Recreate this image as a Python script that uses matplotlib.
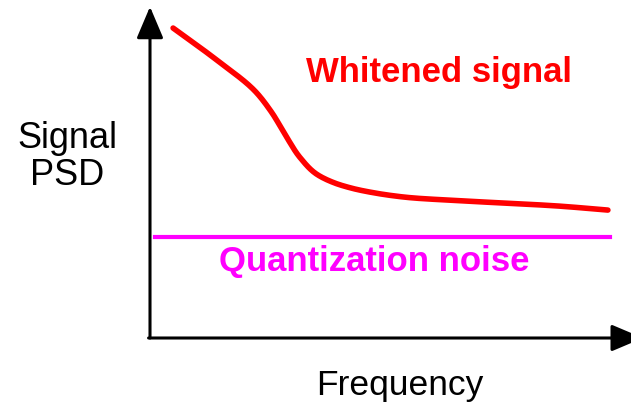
import matplotlib.pyplot as plt
import numpy as np

# Whitened signal PSD curve (frequency, level in arbitrary units)
sig_freq = [4.8, 14.0, 22.2, 25.2, 28.5, 31.2, 34.7, 38.5, 41.6, 46.8, 52.0, 62.4, 72.8, 85.2, 95.2]
sig_psd = [94.5, 84.6, 74.7, 69.0, 61.0, 55.0, 49.9, 47.2, 45.8, 44.2, 43.1, 42.0, 41.2, 40.2, 39.0]

# Quantization noise floor
noise_freq = [1.0, 95.6]
noise_psd = [30.8, 30.8]

plt.rcParams['font.family'] = ['Liberation Sans', 'DejaVu Sans']

fig = plt.figure(figsize=(6.31, 4.08), dpi=100)
ax = fig.add_axes([150 / 631, 70 / 408, 481 / 631, 328 / 408])
ax.set_xlim(0, 100)
ax.set_ylim(0, 100)
ax.axis('off')


# smooth the curve with a cubic Hermite spline through the points
def cubic(tk, vk, tq):
    out = np.empty_like(tq)
    n = len(tk)
    m = np.gradient(vk, tk)
    for i, q in enumerate(tq):
        k = min(np.searchsorted(tk, q, side='right') - 1, n - 2)
        h = tk[k + 1] - tk[k]
        s = (q - tk[k]) / h
        h00 = 2 * s**3 - 3 * s**2 + 1
        h10 = s**3 - 2 * s**2 + s
        h01 = -2 * s**3 + 3 * s**2
        h11 = s**3 - s**2
        out[i] = h00 * vk[k] + h10 * h * m[k] + h01 * vk[k + 1] + h11 * h * m[k + 1]
    return out


xs = np.array(sig_freq)
ys = np.array(sig_psd)
t = np.concatenate([[0], np.cumsum(np.hypot(np.diff(xs), np.diff(ys)))])
tt = np.linspace(0, t[-1], 400)

ax.plot(cubic(t, xs, tt), cubic(t, ys, tt), color='#ff0000', lw=4.0,
        solid_capstyle='round', clip_on=False)
ax.plot(noise_freq, noise_psd, color='#ff00ff', lw=3.0, clip_on=False)

# axes arrows
arrow = dict(arrowstyle='-|>,head_length=1.3,head_width=0.55', color='black', lw=2.2,
             mutation_scale=15, shrinkA=0, shrinkB=0)
ax.annotate('', xy=(0, 101), xytext=(0, 0), arrowprops=arrow, annotation_clip=False)
ax.annotate('', xy=(102.5, 0), xytext=(-0.3, 0), arrowprops=arrow, annotation_clip=False)

ax.text(60.0, 81, 'Whitened signal', color='#ff0000', fontsize=25, fontweight='bold',
        ha='center', va='center')
ax.text(46.7, 23.3, 'Quantization noise', color='#ff00ff', fontsize=25, fontweight='bold',
        ha='center', va='center')
fig.text(67 / 631, 1 - 157 / 408, 'Signal\nPSD', fontsize=26, ha='center', va='center',
         linespacing=1.1)
fig.text(400 / 631, 1 - 386 / 408, 'Frequency', fontsize=25.5, ha='center', va='center')

fig.savefig('out.png', dpi=100)
